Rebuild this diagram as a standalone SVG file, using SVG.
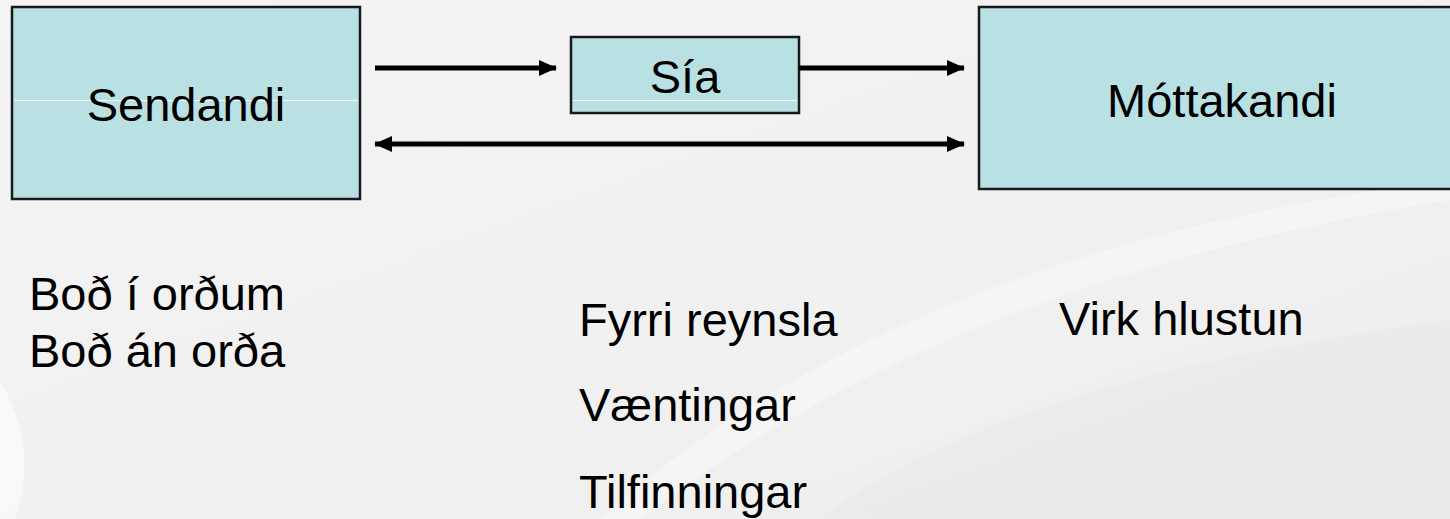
<svg xmlns="http://www.w3.org/2000/svg" width="1450" height="519" viewBox="0 0 1450 519">
<style>
.box{fill:#b9e0e3;stroke:#1a1a1a;stroke-width:2.5}
.hl{stroke:#ffffff;stroke-width:1.2;opacity:0.85}
.t{font-family:"Liberation Sans",Arial,sans-serif;font-size:47px;fill:#000}
.c{stroke:#000;stroke-width:5;fill:none}
</style>
<defs>
<marker id="ah" markerUnits="userSpaceOnUse" markerWidth="18" markerHeight="18" viewBox="0 0 18 18" refX="17" refY="9" orient="auto-start-reverse">
<path d="M0,1 L18,9 L0,17 Z" fill="#000"/>
</marker>
<linearGradient id="bg" x1="0" y1="0" x2="1" y2="1">
<stop offset="0" stop-color="#f4f4f4"/>
<stop offset="1" stop-color="#eeeeee"/>
</linearGradient>
</defs>
<rect x="0" y="0" width="1450" height="519" fill="url(#bg)"/>
<path d="M0,380 Q40,450 15,519 L0,519 Z" fill="#ffffff" opacity="0.5"/>
<path d="M820,519 Q1000,380 1450,320 L1450,519 Z" fill="#e9e9e9" opacity="0.7"/>
<path d="M600,519 Q900,250 1450,180 L1450,200 Q950,280 640,519 Z" fill="#ffffff" opacity="0.35"/>
<g id="sendandi">
<rect class="box" x="12" y="7" width="348" height="192"/>
<line class="hl" x1="14" y1="100.5" x2="358" y2="100.5"/>
<text class="t" x="186" y="120.5" text-anchor="middle">Sendandi</text>
</g>
<g id="sia">
<rect class="box" x="571" y="37" width="228" height="76"/>
<line class="hl" x1="573" y1="100.5" x2="797" y2="100.5"/>
<text class="t" x="685" y="93" text-anchor="middle">Sía</text>
</g>
<g id="mottakandi">
<rect class="box" x="979" y="7" width="490" height="182"/>
<text class="t" x="1222" y="117" text-anchor="middle">Móttakandi</text>
</g>
<g id="connectors">
<line class="c" x1="375" y1="68" x2="556" y2="68" marker-end="url(#ah)"/>
<line class="c" x1="799" y1="68" x2="964" y2="68" marker-end="url(#ah)"/>
<line class="c" x1="375" y1="144" x2="964" y2="144" marker-start="url(#ah)" marker-end="url(#ah)"/>
</g>
<g id="labels">
<text class="t" x="29" y="310">Boð í orðum</text>
<text class="t" x="29" y="366.5">Boð án orða</text>
<text class="t" x="579" y="336">Fyrri reynsla</text>
<text class="t" x="579" y="421">Væntingar</text>
<text class="t" x="579" y="508">Tilfinningar</text>
<text class="t" x="1059" y="335">Virk hlustun</text>
</g>
</svg>
